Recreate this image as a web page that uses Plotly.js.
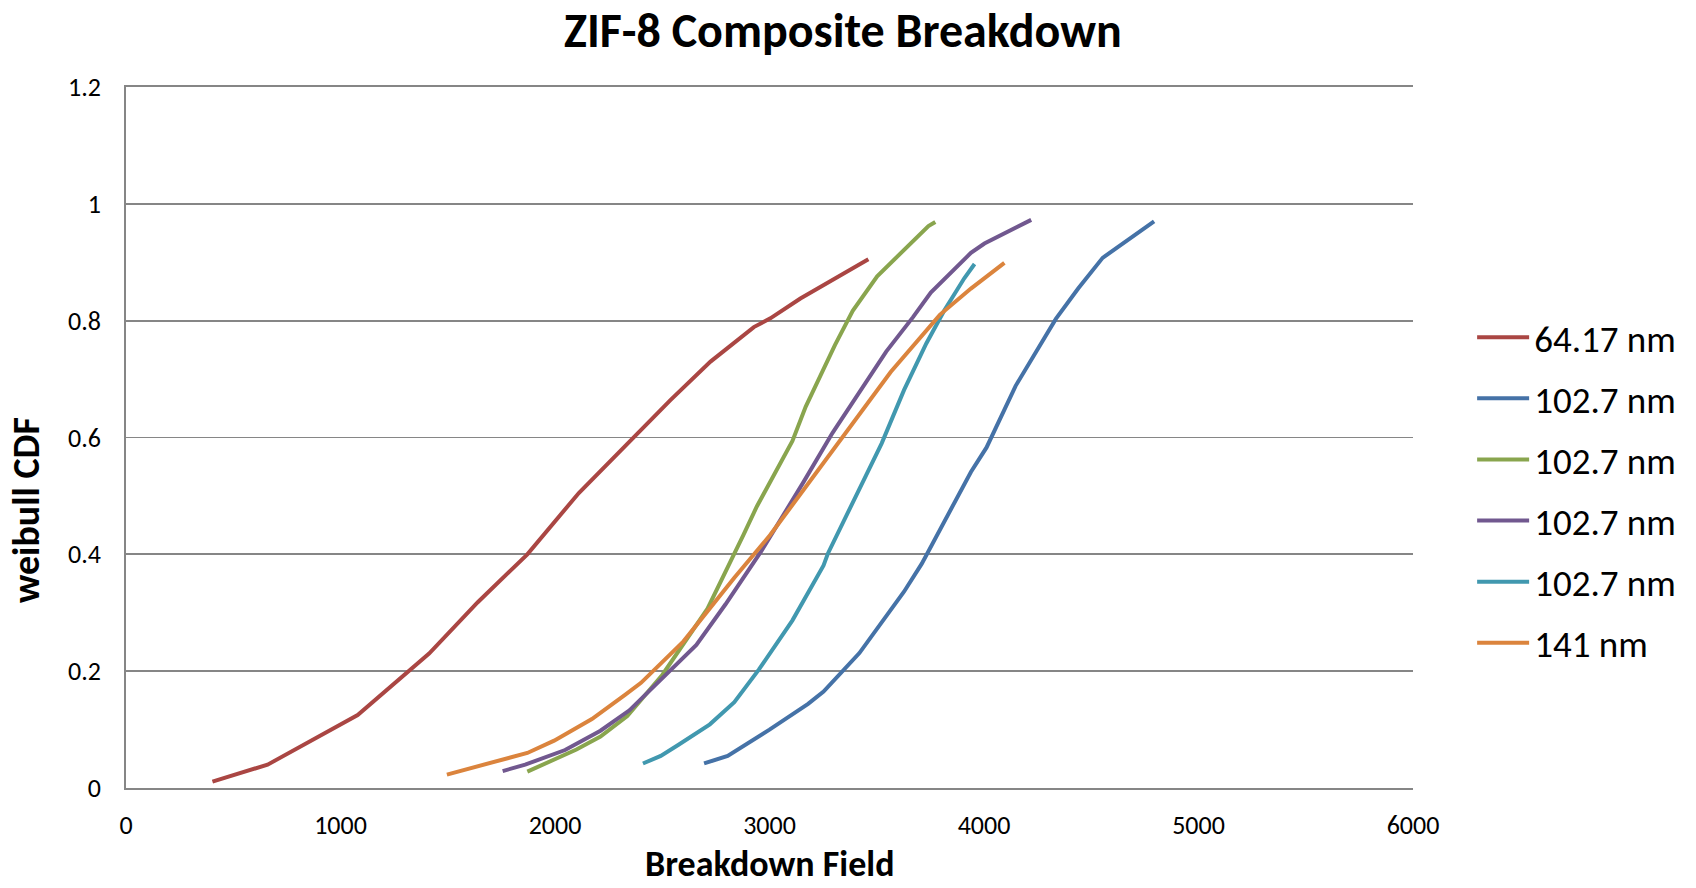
<!DOCTYPE html>
<html>
<head>
<meta charset="utf-8">
<script src="https://cdn.plot.ly/plotly-3.0.1.min.js"></script>
<style>html,body{margin:0;padding:0;background:#fff;}#chart{width:1696px;height:888px;}</style>
</head>
<body>
<div id="chart"></div>
<script>
const seriesNames = ["64.17 nm", "102.7 nm", "102.7 nm", "102.7 nm", "102.7 nm", "141 nm"];
const seriesColors = ["#AA4643", "#4572A7", "#89A54E", "#71588F", "#4198AF", "#DB843D"];

const redX = [403, 660, 1080, 1413, 1640, 1871, 2111, 2367, 2538, 2725, 2927, 3004, 3144, 3461];
const redY = [0.011, 0.040, 0.125, 0.230, 0.318, 0.400, 0.505, 0.601, 0.664, 0.730, 0.789, 0.804, 0.838, 0.905];

const blueX = [2695, 2805, 3000, 3180, 3252, 3419, 3627, 3710, 3939, 4012, 4147, 4335, 4439, 4553, 4793];
const blueY = [0.042, 0.055, 0.100, 0.144, 0.165, 0.231, 0.336, 0.384, 0.541, 0.583, 0.688, 0.803, 0.855, 0.9075, 0.970];

const greenX = [1871, 1987, 2100, 2212, 2337, 2501, 2711, 2878, 2941, 3107, 3169, 3305, 3388, 3502, 3741, 3773];
const greenY = [0.028, 0.048, 0.066, 0.088, 0.123, 0.194, 0.307, 0.433, 0.482, 0.594, 0.653, 0.758, 0.817, 0.876, 0.962, 0.969];

const purpleX = [1756, 1861, 2047, 2212, 2347, 2505, 2659, 2795, 2961, 3159, 3294, 3544, 3669, 3752, 3939, 4002, 4220];
const purpleY = [0.029, 0.040, 0.065, 0.098, 0.133, 0.190, 0.245, 0.3145, 0.405, 0.524, 0.608, 0.747, 0.806, 0.848, 0.916, 0.932, 0.9725];

const cyanX = [2410, 2493, 2576, 2722, 2836, 2951, 3107, 3252, 3273, 3419, 3523, 3627, 3731, 3814, 3908, 3956];
const cyanY = [0.042, 0.055, 0.074, 0.109, 0.147, 0.203, 0.287, 0.381, 0.402, 0.510, 0.590, 0.681, 0.761, 0.817, 0.8725, 0.897];

const orangeX = [1496, 1871, 1996, 2172, 2328, 2401, 2599, 2836, 3003, 3315, 3565, 3794, 3939, 4095];
const orangeY = [0.023, 0.060, 0.081, 0.118, 0.160, 0.180, 0.251, 0.360, 0.433, 0.587, 0.712, 0.810, 0.855, 0.899];

const xs = [redX, blueX, greenX, purpleX, cyanX, orangeX];
const ys = [redY, blueY, greenY, purpleY, cyanY, orangeY];

const FONT = "Carlito, Lato, 'Open Sans', sans-serif";

const traces = xs.map((x, i) => ({
  type: "scatter",
  mode: "lines",
  x: x,
  y: ys[i],
  name: seriesNames[i],
  legendgroup: "g" + i,
  line: {color: seriesColors[i], width: 4},
  hoverinfo: "x+y"
}));

const layout = {
  width: 1696,
  height: 888,
  paper_bgcolor: "#ffffff",
  plot_bgcolor: "#ffffff",
  margin: {l: 125.5, r: 283.4, t: 86.5, b: 99.5},
  font: {family: FONT, color: "#000000"},
  title: {
    text: "<b>ZIF-8 Composite Breakdown</b>",
    font: {family: FONT, size: 48, color: "#000000"},
    x: 0.497, xref: "container", xanchor: "center",
    y: 0.9655, yref: "container", yanchor: "middle"
  },
  xaxis: {
    range: [0, 6000],
    dtick: 1000,
    tick0: 0,
    showgrid: false,
    zeroline: false,
    showline: true,
    mirror: true,
    linecolor: "#868686",
    linewidth: 1.8,
    ticks: "",
    ticklabelstandoff: 13,
    tickfont: {family: FONT, size: 26, color: "#000000"}
  },
  yaxis: {
    range: [0, 1.2],
    dtick: 0.2,
    tick0: 0,
    showgrid: true,
    gridcolor: "#868686",
    gridwidth: 1.8,
    zeroline: false,
    showline: true,
    linecolor: "#868686",
    linewidth: 1.8,
    ticks: "",
    ticklabelstandoff: 18,
    tickfont: {family: FONT, size: 26, color: "#000000"}
  },
  showlegend: true,
  legend: {
    x: 0.868, xref: "container", xanchor: "left",
    y: 0.448, yref: "container", yanchor: "middle",
    font: {family: FONT, size: 37, color: "#000000"},
    tracegroupgap: 10,
    bgcolor: "rgba(0,0,0,0)",
    itemwidth: 52
  },
  annotations: [
    {
      text: "<b>Breakdown Field</b>",
      xref: "paper", yref: "paper",
      x: 0.5, y: -0.1417, xanchor: "center", yanchor: "bottom",
      showarrow: false,
      borderpad: 0,
      font: {family: FONT, size: 36, color: "#000000"}
    },
    {
      text: "<b>weibull CDF</b>",
      xref: "paper", yref: "paper",
      x: -0.0776, y: 0.3967, xanchor: "center", yanchor: "middle",
      textangle: -90,
      showarrow: false,
      font: {family: FONT, size: 38, color: "#000000"}
    }
  ]
};

Plotly.newPlot("chart", traces, layout, {displayModeBar: false, staticPlot: true});
</script>
</body>
</html>
